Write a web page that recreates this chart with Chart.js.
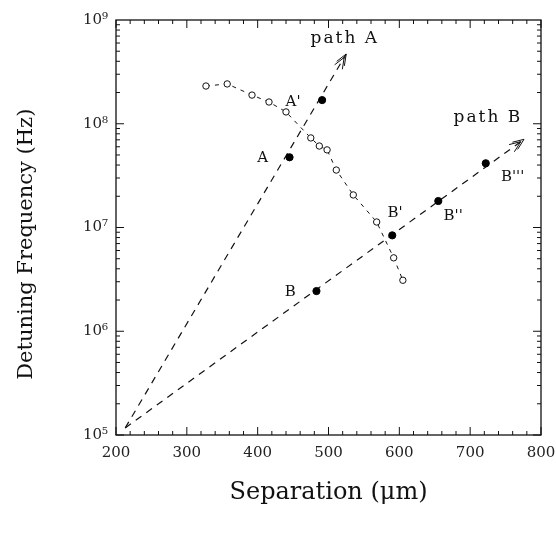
<!DOCTYPE html>
<html>
<head>
<meta charset="utf-8">
<script src="https://cdn.jsdelivr.net/npm/chart.js@4.4.1/dist/chart.umd.min.js"></script>
<style>
  html, body { margin: 0; padding: 0; background: #fff; }
  #wrap { width: 556px; height: 534px; }
</style>
</head>
<body>
<div id="wrap"><canvas id="myChart1"></canvas></div>
<script>
// measured detuning vs separation (open circles)
let openX = [327, 357, 392, 416, 440, 475, 487, 498, 511, 535, 568, 592, 605];
let openY = [2.31e8, 2.42e8, 1.89e8, 1.62e8, 1.30e8, 7.3e7, 6.1e7, 5.6e7, 3.58e7, 2.06e7, 1.13e7, 5.1e6, 3.1e6];

// marked points on the two paths
let fullX = [445, 491, 483, 590, 655, 722];
let fullY = [4.75e7, 1.69e8, 2.44e6, 8.4e6, 1.8e7, 4.16e7];

// path lines, start and arrow tip
let pathAx = [213, 525];
let pathAy = [1.17e5, 4.7e8];
let pathBx = [213, 776];
let pathBy = [1.17e5, 7.08e7];

// text labels placed in data units
let noteText = ['path A', 'path B', "A'", 'A', "B'", "B''", "B'''", 'B'];
let noteX = [523, 725, 450, 407, 594, 676, 760, 446];
let noteY = [6.56e8, 1.14e8, 1.63e8, 4.71e7, 1.39e7, 1.29e7, 3.09e7, 2.41e6];

let xTicks = [200, 300, 400, 500, 600, 700, 800];
let yTicks = [1e5, 1e6, 1e7, 1e8, 1e9];

const serif = '"DejaVu Serif", "Liberation Serif", serif';
const sup = { 5: '\u2075', 6: '\u2076', 7: '\u2077', 8: '\u2078', 9: '\u2079' };

function pts(xs, ys) {
    return xs.map((x, i) => ({ x: x, y: ys[i] }));
}

// frame, inward ticks on all four sides, arrowheads and labels
const decorations = {
    id: 'decorations',
    afterDatasetsDraw(chart) {
        const c = chart.ctx;
        const a = chart.chartArea;
        const sx = chart.scales.x, sy = chart.scales.y;
        c.save();
        c.strokeStyle = '#111';
        c.lineWidth = 1.3;
        c.strokeRect(a.left, a.top, a.right - a.left, a.bottom - a.top);

        c.lineWidth = 1;
        c.beginPath();
        for (let v = 200; v <= 800; v += 20) {
            const px = sx.getPixelForValue(v);
            const len = v % 100 === 0 ? 8 : 4;
            c.moveTo(px, a.bottom); c.lineTo(px, a.bottom - len);
            c.moveTo(px, a.top); c.lineTo(px, a.top + len);
        }
        for (let e = 5; e < 9; e++) {
            for (let m = 1; m <= 9; m++) {
                const py = sy.getPixelForValue(m * Math.pow(10, e));
                const len = m === 1 ? 8 : 4;
                c.moveTo(a.left, py); c.lineTo(a.left + len, py);
                c.moveTo(a.right, py); c.lineTo(a.right - len, py);
            }
        }
        c.stroke();

        // open double arrowheads at the end of each path
        [[pathAx, pathAy], [pathBx, pathBy]].forEach(p => {
            const x0 = sx.getPixelForValue(p[0][0]), y0 = sy.getPixelForValue(p[1][0]);
            const x1 = sx.getPixelForValue(p[0][1]), y1 = sy.getPixelForValue(p[1][1]);
            const ang = Math.atan2(y1 - y0, x1 - x0);
            c.beginPath();
            [0, 4].forEach(back => {
                const tx = x1 - back * Math.cos(ang), ty = y1 - back * Math.sin(ang);
                [-0.38, 0.38].forEach(d => {
                    c.moveTo(tx, ty);
                    c.lineTo(tx - 12 * Math.cos(ang + d), ty - 12 * Math.sin(ang + d));
                });
            });
            c.stroke();
        });

        c.fillStyle = '#111';
        c.textAlign = 'center';
        c.textBaseline = 'middle';
        noteText.forEach((t, i) => {
            const isPath = t.indexOf('path') === 0;
            c.font = (isPath ? '17px ' : '15px ') + serif;
            c.letterSpacing = isPath ? '2px' : '0px';
            c.fillText(t, sx.getPixelForValue(noteX[i]), sy.getPixelForValue(noteY[i]));
        });
        c.restore();
    }
};

let ctx = document.getElementById('myChart1').getContext('2d');
let myChart1 = new Chart(ctx, {
    type: 'scatter',
    data: {
        datasets: [{
            data: pts(openX, openY),
            showLine: true,
            borderColor: '#111',
            borderWidth: 1,
            borderDash: [4, 5],
            pointRadius: 3.2,
            pointBorderWidth: 1,
            pointBackgroundColor: '#fff',
            pointBorderColor: '#111'
        }, {
            data: pts(fullX, fullY),
            showLine: false,
            pointRadius: 3.6,
            pointBackgroundColor: '#000',
            pointBorderColor: '#000'
        }, {
            data: pts(pathAx, pathAy),
            showLine: true,
            borderColor: '#111',
            borderWidth: 1.2,
            borderDash: [7, 6],
            pointRadius: 0
        }, {
            data: pts(pathBx, pathBy),
            showLine: true,
            borderColor: '#111',
            borderWidth: 1.2,
            borderDash: [7, 6],
            pointRadius: 0
        }]
    },
    options: {
        responsive: true,
        maintainAspectRatio: false,
        animation: false,
        layout: { padding: { top: 20, right: 15, bottom: 0, left: 0 } },
        plugins: {
            legend: { display: false },
            tooltip: { enabled: false }
        },
        scales: {
            x: {
                type: 'linear',
                min: 200,
                max: 800,
                afterBuildTicks: s => { s.ticks = xTicks.map(v => ({ value: v })); },
                afterFit: s => { s.height = 99; s.paddingLeft = 0; s.paddingRight = 0; },
                grid: { display: false, drawTicks: false },
                border: { display: false },
                ticks: { padding: 9, color: '#222', font: { family: serif, size: 15 } },
                title: {
                    display: true,
                    text: 'Separation (\u03bcm)',
                    color: '#111',
                    font: { family: serif, size: 24 },
                    padding: { top: 0, bottom: 27 }
                }
            },
            y: {
                type: 'logarithmic',
                min: 1e5,
                max: 1e9,
                afterBuildTicks: s => { s.ticks = yTicks.map(v => ({ value: v })); },
                afterFit: s => { s.width = 116; },
                grid: { display: false, drawTicks: false },
                border: { display: false },
                ticks: {
                    padding: 8,
                    color: '#222',
                    font: { family: serif, size: 15 },
                    callback: v => '10' + sup[Math.round(Math.log10(v))]
                },
                title: {
                    display: true,
                    // trailing spaces push the visible text a little below centre
                    text: 'Detuning Frequency (Hz)     ',
                    color: '#111',
                    font: { family: serif, size: 21 },
                    padding: { top: 14, bottom: 0 }
                }
            }
        }
    },
    plugins: [decorations]
});
</script>
</body>
</html>
